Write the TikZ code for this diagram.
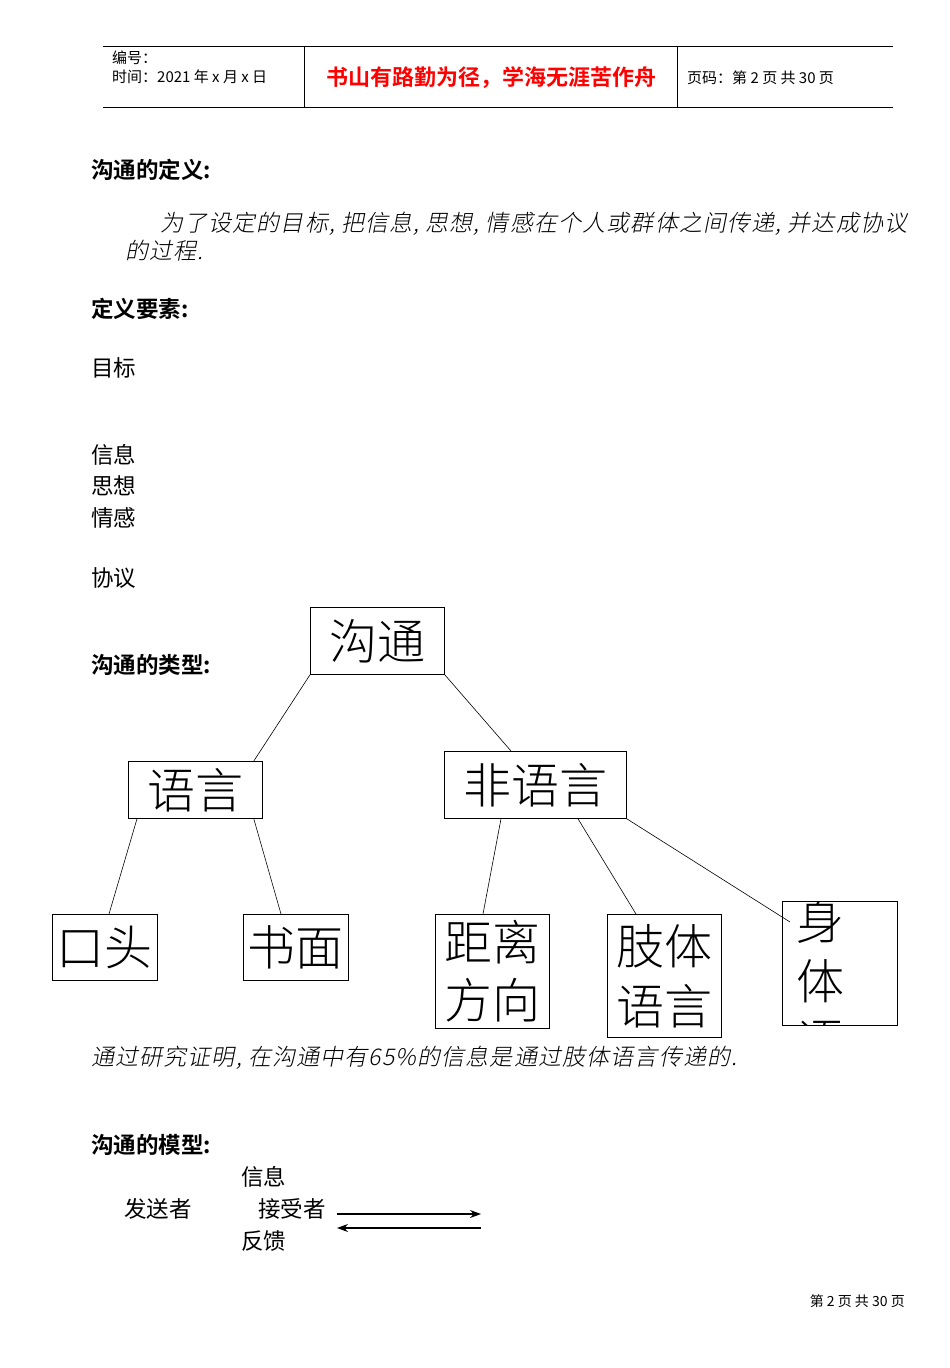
\documentclass[tikz,border=0pt]{standalone}
\usepackage{fontspec}
\setmainfont{Liberation Sans}
\newfontfamily\cjk{Noto Sans CJK SC}
\newfontfamily\cjkb{Noto Sans CJK SC Bold}
\newfontfamily\cjkl{Noto Sans CJK SC Light}
\newfontfamily\cjki[FakeSlant=0.2,LetterSpace=5]{Noto Sans CJK SC Light}
\usetikzlibrary{arrows.meta,calc}
\begin{document}
\begin{tikzpicture}[x=1pt,y=-1pt,
  bx/.style={draw,line width=0.8pt,inner sep=0pt,anchor=north west,font=\cjkl\fontsize{48}{56}\selectfont},
  lab/.style={anchor=west,inner sep=0pt,font=\cjk\fontsize{22.5}{25}\selectfont},
  hd/.style={anchor=west,inner sep=0pt,font=\cjkb\fontsize{22.5}{25}\selectfont},
  ln/.style={line width=0.6pt}]
\useasboundingbox (0,0) rectangle (950,1368);
% header
\draw[line width=0.6pt] (103,46) -- (893,46);
\draw[line width=0.6pt] (103,107) -- (893,107);
\draw (304,46) -- (304,107);
\draw (677,46) -- (677,107);
\node[anchor=west,inner sep=0pt,font=\cjk\fontsize{15}{16}\selectfont] (h1) at (112,58) {编号：};
\node[anchor=west,inner sep=0pt,font=\cjk\fontsize{15}{16}\selectfont] (h2) at (112,77) {时间：2021 年 x 月 x 日};
\node[inner sep=0pt,text=red,font=\cjkb\fontsize{22}{24}\selectfont] (h3) at (491,78) {书山有路勤为径，学海无涯苦作舟};
\node[anchor=west,inner sep=0pt,font=\cjk\fontsize{15}{16}\selectfont] (h4) at (687,78) {页码：第 2 页 共 30 页};
% text
\node[hd] (t1) at (91,170) {沟通的定义:};
\node[anchor=west,inner sep=0pt,font=\cjki\fontsize{23}{25}\selectfont] (t2) at (160,224) {为了设定的目标, 把信息, 思想, 情感在个人或群体之间传递, 并达成协议};
\node[anchor=west,inner sep=0pt,font=\cjki\fontsize{23}{25}\selectfont] (t3) at (125,251) {的过程.};
\node[hd] (t4) at (91,309) {定义要素:};
\node[lab] (t5) at (91,368) {目标};
\node[lab] (t6) at (91,455) {信息};
\node[lab] (t7) at (91,486) {思想};
\node[lab] (t8) at (91,518) {情感};
\node[lab] (t9) at (91,578) {协议};
\node[hd] (t10) at (91,665) {沟通的类型:};
% tree
\node[bx,minimum width=134,minimum height=67] (gt) at (310,607) {沟通};
\node[bx,minimum width=134,minimum height=57] (yy) at (128,761) {语言};
\node[bx,minimum width=182,minimum height=67] (fyy) at (444,751) {非语言};
\node[bx,minimum width=105,minimum height=66] (kt) at (52,914) {口头};
\node[bx,minimum width=105,minimum height=66] (sm) at (243,914) {书面};
\node[bx,minimum width=114,minimum height=114,align=center,font=\cjkl\fontsize{48}{58}\selectfont] (jl) at (435,914) {距离\\方向};
\node[bx,minimum width=114,minimum height=123,align=center,font=\cjkl\fontsize{48}{60}\selectfont] (zt) at (607,914) {肢体\\语言};
\node[draw,line width=0.8pt,anchor=north west,minimum width=115,minimum height=124,inner sep=0pt] (st) at (782,901) {};
\begin{scope}
\clip (782,901) rectangle (897,1025);
\node[anchor=north,inner sep=0pt,align=center,font=\cjkl\fontsize{48}{60}\selectfont] (sttxt) at (820,899) {身\\体\\语};
\end{scope}
\coordinate (stin) at (790,922);
\draw[ln] (gt.south west) -- ($(yy.north east)+(-9,0)$);
\draw[ln] (gt.south east) -- ($(fyy.north west)+(67,0)$);
\draw[ln] ($(yy.south west)+(9,0)$) -- ($(kt.north west)+(57,0)$);
\draw[ln] ($(yy.south east)+(-9,0)$) -- ($(sm.north west)+(38,0)$);
\draw[ln] ($(fyy.south west)+(57,0)$) -- ($(jl.north west)+(48,0)$);
\draw[ln] ($(fyy.south west)+(134,0)$) -- ($(zt.north west)+(29,0)$);
\draw[ln] (fyy.south east) -- (stin);
\node[anchor=west,inner sep=0pt,font=\cjki\fontsize{23}{25}\selectfont] (t11) at (91,1058) {通过研究证明, 在沟通中有65\%的信息是通过肢体语言传递的.};
\node[hd] (t12) at (91,1145) {沟通的模型:};
\node[lab] (m1) at (241,1177) {信息};
\node[lab] (m2) at (124,1209) {发送者};
\node[lab] (m3) at (258,1209) {接受者};
\node[lab] (m4) at (241,1241) {反馈};
\coordinate (a1) at (337,1214); \coordinate (a2) at (481,1214);
\coordinate (b1) at (481,1228); \coordinate (b2) at (337,1228);
\draw[line width=1.1pt,-{Stealth[length=11pt,width=8pt]}] (a1) -- (a2);
\draw[line width=1.1pt,-{Stealth[length=11pt,width=8pt]}] (b1) -- (b2);
\node[anchor=east,inner sep=0pt,font=\cjk\fontsize{14}{15}\selectfont] (ft) at (905,1301) {第 2 页 共 30 页};
\end{tikzpicture}
\end{document}
